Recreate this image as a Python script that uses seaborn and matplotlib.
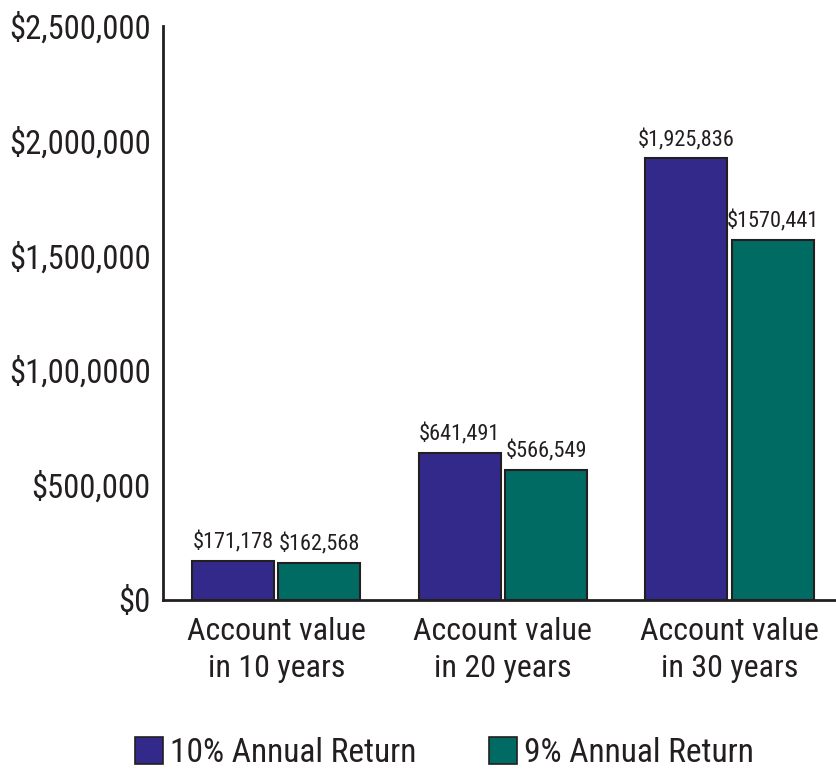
import pandas as pd
import matplotlib
matplotlib.use("Agg")
import matplotlib.pyplot as plt
import matplotlib.patches as mpatches
from matplotlib.ticker import FixedLocator
import seaborn as sns

# data
categories = ["Account value\nin 10 years", "Account value\nin 20 years", "Account value\nin 30 years"]
series = ["10% Annual Return", "9% Annual Return"]
return_10 = [171178, 641491, 1925836]
return_9 = [162568, 566549, 1570441]
labels_10 = ["$171,178", "$641,491", "$1,925,836"]
labels_9 = ["$162,568", "$566,549", "$1570,441"]
ytick_values = [0, 500000, 1000000, 1500000, 2000000, 2500000]
ytick_labels = ["$0", "$500,000", "$1,00,0000", "$1,500,000", "$2,000,000", "$2,500,000"]

df = pd.DataFrame({
    "category": categories * 2,
    "series": [series[0]] * 3 + [series[1]] * 3,
    "value": return_10 + return_9,
})

sns.set_style("white")
plt.rcParams['font.family'] = ['Roboto Condensed', 'Archivo Narrow', 'DejaVu Sans']
ink = "#231f20"
colors = ["#33298a", "#006b62"]

fig = plt.figure(figsize=(8.36, 7.71), dpi=100)
ax = fig.add_axes([0.195, 0.222, 0.805, 0.744])

sns.barplot(data=df, x="category", y="value", hue="series", palette=colors, saturation=1,
            width=0.762, gap=0.05, edgecolor=ink, linewidth=1.5, ax=ax, legend=False)

for cont, labs in zip(ax.containers, [labels_10, labels_9]):
    ax.bar_label(cont, labels=labs, padding=5, fontsize=16, color=ink)

ax.set_xlim(-0.5, 2.47)
ax.set_ylim(0, 2500000)
ax.set_yticks(ytick_values)
ax.set_yticklabels(ytick_labels, fontsize=23.5, color=ink)
ax.tick_params(axis="y", direction="in", length=11, width=2, color=ink, pad=9)
ax.tick_params(axis="x", which="major", length=0, pad=12.5, labelsize=23, labelcolor=ink)
for lab in ax.get_xticklabels():
    lab.set_linespacing(1.35)
ax.xaxis.set_minor_locator(FixedLocator([0.5, 1.5]))
ax.tick_params(axis="x", which="minor", direction="in", length=10, width=2, color=ink)
ax.set_xlabel("")
ax.set_ylabel("")

for side in ["top", "right"]:
    ax.spines[side].set_visible(False)
for side in ["left", "bottom"]:
    ax.spines[side].set_linewidth(2)
    ax.spines[side].set_color(ink)

handles = [mpatches.Patch(facecolor=c, edgecolor=ink, linewidth=1.2) for c in colors]
fig.legend(handles, series, loc="lower left", bbox_to_anchor=(0.1615, 0.003), ncol=2,
           frameon=False, fontsize=24, handlelength=0.84, handleheight=0.87,
           handletextpad=0.2, columnspacing=2.2, borderpad=0, borderaxespad=0,
           labelcolor=ink)

fig.savefig("out.png", dpi=100)
